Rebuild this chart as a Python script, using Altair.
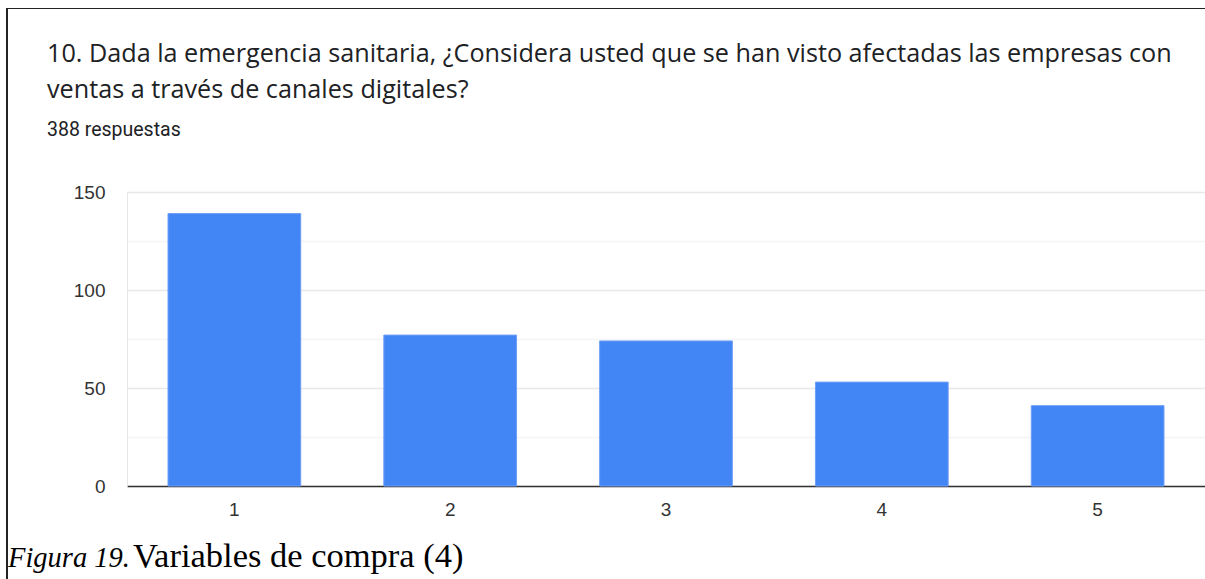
import altair as alt
import pandas as pd

categories = ["1", "2", "3", "4", "5"]
counts = [139, 77, 74, 53, 41]

title_lines = [
    "10. Dada la emergencia sanitaria, ¿Considera usted que se han visto afectadas las empresas con",
    "ventas a través de canales digitales?",
]
subtitle = "388 respuestas"
caption_italic = "Figura 19."
caption_regular = "Variables de compra (4)"
y_ticks = [0, 25, 50, 75, 100, 125, 150]

df = pd.DataFrame({"cat": categories, "n": counts})

W, H = 1078, 294
LEFT, TOP = 127, 192

bars = alt.Chart(df).mark_bar(color="#4285f4", stroke="#6f9ff6", strokeWidth=1).encode(
    x=alt.X(
        "cat:N",
        sort=categories,
        scale=alt.Scale(paddingInner=0.385, paddingOuter=0.19),
        axis=alt.Axis(
            title=None,
            labelAngle=0,
            labelFont="Liberation Sans",
            labelFontSize=19,
            labelColor="#333333",
            labelPadding=14,
            ticks=False,
            domainColor="#333333",
            domainWidth=1.5,
            grid=False,
        ),
    ),
    y=alt.Y(
        "n:Q",
        scale=alt.Scale(domain=[0, 150], nice=False),
        axis=alt.Axis(
            title=None,
            values=y_ticks,
            labelExpr="datum.value % 50 === 0 ? datum.label : ''",
            labelFont="Liberation Sans",
            labelFontSize=19,
            labelColor="#333333",
            labelPadding=22,
            ticks=False,
            domainColor="#e6e6e6",
            gridColor={"condition": {"test": "datum.value % 50 === 0", "value": "#e8e8e8"}, "value": "#f4f4f4"},
            gridWidth=1.3,
        ),
    ),
)

def text_layer(txt, x, y, size, font, color, style="normal"):
    return alt.Chart(pd.DataFrame({"t": [txt]})).mark_text(
        align="left", baseline="alphabetic", fontSize=size, font=font,
        color=color, fontStyle=style,
    ).encode(x=alt.value(x), y=alt.value(y), text="t:N")

t1 = text_layer(title_lines[0], 47 - LEFT, 62 - TOP, 25.2, "Open Sans", "#202124")
t2 = text_layer(title_lines[1], 47 - LEFT, 98 - TOP, 25.2, "Open Sans", "#202124")
t3 = text_layer(subtitle, 47 - LEFT, 136 - TOP, 19.5, "Roboto", "#202124")
c1 = text_layer(caption_italic, 8 - LEFT, 567 - TOP, 28.5, "Liberation Serif", "#000000", "italic")
c2 = text_layer(caption_regular, 133 - LEFT, 567 - TOP, 34.5, "Liberation Serif", "#000000")

border_left = alt.Chart(pd.DataFrame({"a": [0]})).mark_rule(color="#222222", strokeWidth=2).encode(
    x=alt.value(7 - LEFT), y=alt.value(8 - TOP), y2=alt.value(579 - TOP)
)
border_top = alt.Chart(pd.DataFrame({"a": [0]})).mark_rule(color="#222222", strokeWidth=1.2).encode(
    x=alt.value(7 - LEFT), x2=alt.value(1205 - LEFT), y=alt.value(8.5 - TOP)
)

chart = alt.layer(bars, t1, t2, t3, c1, c2, border_left, border_top).properties(
    width=W,
    height=H,
    autosize=alt.AutoSizeParams(type="none"),
    padding={"left": LEFT, "top": TOP, "right": 0, "bottom": 579 - TOP - H},
    background="white",
).configure_view(stroke=None)

chart.save("out.html", embed_options={"renderer": "svg", "actions": False})
